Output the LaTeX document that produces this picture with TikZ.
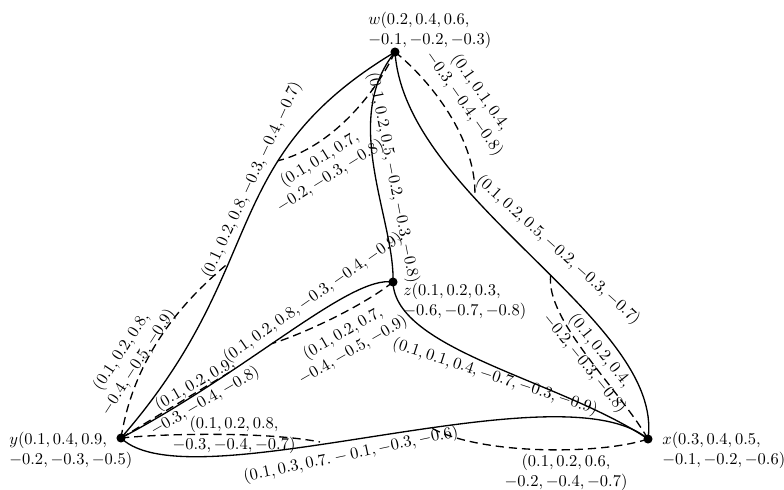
\documentclass[tikz,border=0pt]{standalone}
\begin{document}
\begin{tikzpicture}[x=0.606pt,y=-0.606pt,
  vtx/.style={circle,fill=black,inner sep=0pt,minimum size=5.5pt},
  vlabel/.style={inner sep=0pt,align=left,anchor=north west},
  elabel/.style={inner sep=0pt,align=center},
  sedge/.style={line width=0.8pt},
  dedge/.style={line width=0.8pt,dash pattern=on 5pt off 3pt}]
\useasboundingbox (0,0) rectangle (784,489);
% vertices
\node[vtx] (w) at (395,52) {};
\node[vtx] (z) at (393,282) {};
\node[vtx] (y) at (121,438) {};
\node[vtx] (x) at (648,439) {};
% vertex labels
\node[vlabel] (wl) at (368,12) {$w(0.2, 0.4, 0.6,$\\$-0.1, -0.2, -0.3)$};
\node[vlabel] (zl) at (403,283) {$z(0.1, 0.2, 0.3,$\\$-0.6, -0.7, -0.8)$};
\node[vlabel] (yl) at (9,432) {$y(0.1, 0.4, 0.9,$\\$-0.2, -0.3, -0.5)$};
\node[vlabel] (xl) at (662,432) {$x(0.3, 0.4, 0.5,$\\$-0.1, -0.2, -0.6)$};
% solid edges
\draw[sedge] (y.center) .. controls (271,266) and (215,160) .. (w.center)
  coordinate[pos=0.39] (d1) coordinate[pos=0.67] (a1);
\draw[sedge] (w.center) .. controls (405,200) and (665,320) .. (x.center)
  coordinate[pos=0.35] (b1) coordinate[pos=0.55] (c1);
\draw[sedge] (w.center) .. controls (340,120) and (395,220) .. (z.center);
\draw[sedge] (y.center) .. controls (250,370) and (350,275) .. (z.center)
  coordinate[pos=0.44] (g1) coordinate[pos=0.31] (h1);
\draw[sedge] (z.center) .. controls (395,350) and (560,380) .. (x.center);
\draw[sedge] (y.center) .. controls (190,505) and (560,365) .. (x.center)
  coordinate[pos=0.58] (f1);
\coordinate (e1) at (320,442);
% dashed edges
\draw[dedge] (y.center) .. controls (135,350) and (190,295) .. (d1);
\draw[dedge] (w.center) .. controls (375,95) and (330,148) .. (a1);
\draw[dedge] (w.center) .. controls (430,80) and (478,140) .. (b1);
\draw[dedge] (c1) .. controls (545,320) and (620,390) .. (x.center);
\draw[dedge] (z.center) .. controls (360,308) and (300,335) .. (g1);
\draw[dedge] (y.center) -- (h1);
\draw[dedge] (y.center) .. controls (170,433) and (270,432) .. (e1);
\draw[dedge] (x.center) .. controls (600,455) and (480,455) .. (f1);
% edge labels
\node[elabel,rotate=65] (lyw) at (252,180) {$(0.1, 0.2, 0.8, -0.3, -0.4, -0.7)$};
\node[elabel,rotate=32] (la) at (325,168) {$(0.1, 0.1, 0.7,$\\$-0.2, -0.3, -0.8)$};
\node[elabel,rotate=-79] (lwz) at (393,178) {$(0.1, 0.2, 0.5, -0.2, -0.3, -0.8)$};
\node[elabel,rotate=-55] (lb) at (472,98) {$(0.1, 0.1, 0.4,$\\$-0.3, -0.4, -0.8)$};
\node[elabel,rotate=-42] (lwx) at (558,250) {$(0.1, 0.2, 0.5, -0.2, -0.3, -0.7)$};
\node[elabel,rotate=-51] (lc) at (592,357) {$(0.1, 0.2, 0.4,$\\$-0.2, -0.3, -0.8)$};
\node[elabel,rotate=35] (lyz) at (313,298) {$(0.1, 0.2, 0.8, -0.3, -0.4, -0.9)$};
\node[elabel,rotate=30] (lg) at (348,342) {$(0.1, 0.2, 0.7,$\\$-0.4, -0.5, -0.9)$};
\node[elabel,rotate=57] (ld) at (130,357) {$(0.1, 0.2, 0.8,$\\$-0.4, -0.5, -0.9)$};
\node[elabel,rotate=30] (lh) at (200,393) {$(0.1, 0.2, 0.9,$\\$-0.3, -0.4, -0.8)$};
\node[elabel] (le) at (234,435) {$(0.1, 0.2, 0.8,$\\[1pt]$-0.3, -0.4, -0.7)$};
\node[elabel,rotate=12] (lyx) at (351,455) {$(0.1, 0.3, 0.7. - 0.1, -0.3, -0.6)$};
\node[elabel] (lf) at (566,472) {$(0.1, 0.2, 0.6,$\\$-0.2, -0.4, -0.7)$};
\node[elabel,rotate=-18] (lzx) at (495,377) {$(0.1, 0.1, 0.4, -0.7, -0.3, -0.9)$};
\end{tikzpicture}
\end{document}
